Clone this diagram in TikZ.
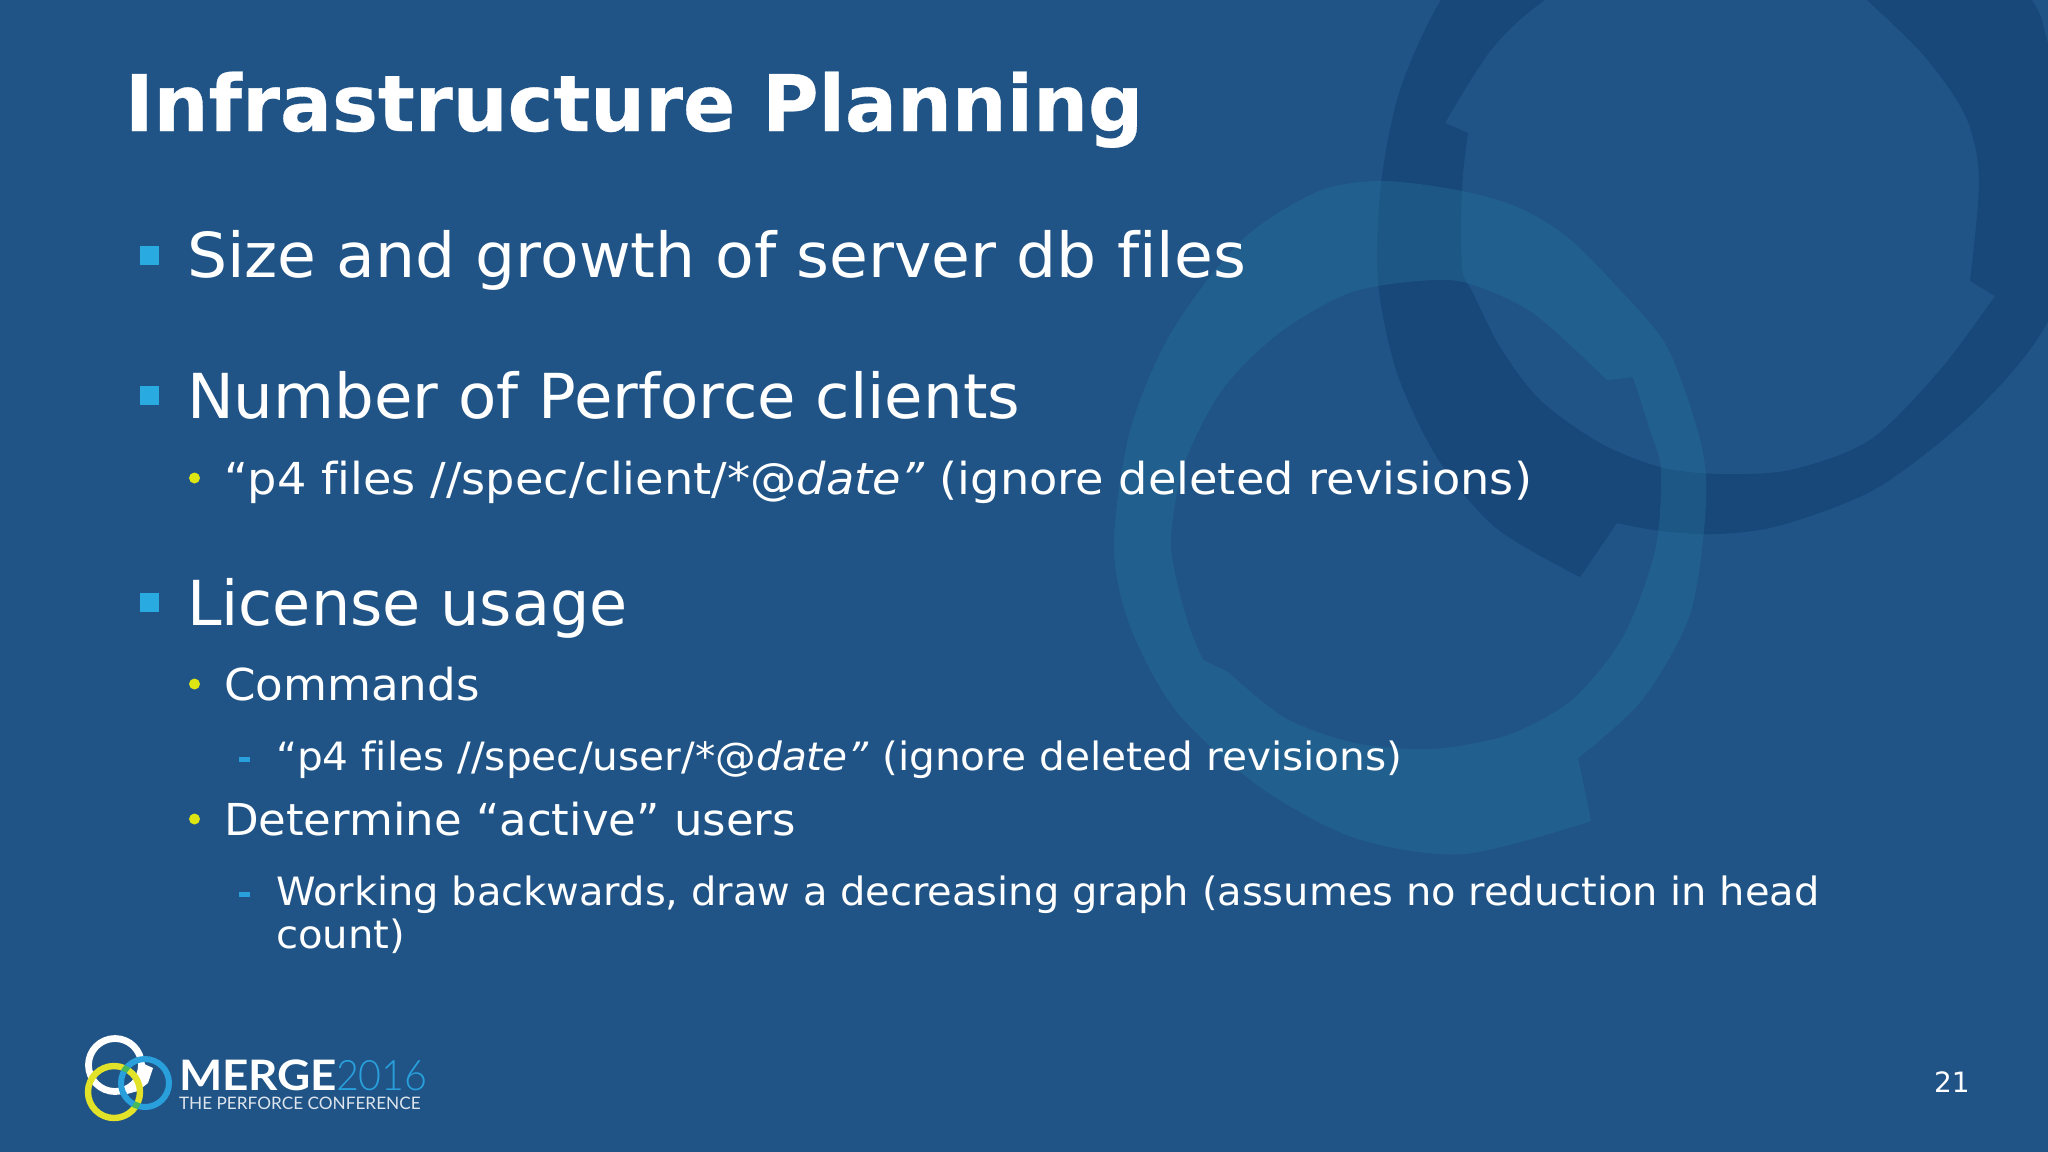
\documentclass[tikz,border=0pt]{standalone}
\usepackage{graphicx}
\usepackage{fontspec}
\setmainfont[Ligatures=NoCommon,BoldFeatures={FakeBold=0.4}]{DejaVu Sans}
\newfontfamily\logofont{Lato}
\newfontfamily\logolight{Lato Light}
\definecolor{bgblue}{RGB}{32,84,135}
\definecolor{ringdark}{RGB}{24,71,122}
\definecolor{ringlight}{RGB}{38,125,160}
\definecolor{sqblue}{RGB}{41,171,226}
\definecolor{dotyellow}{RGB}{221,229,18}
\definecolor{logoyellow}{RGB}{226,226,40}
\definecolor{logoblue}{RGB}{41,160,220}
\definecolor{logogreen}{RGB}{70,185,90}
\newcommand{\sx}[2]{\scalebox{#1}[1]{#2}}
\tikzset{
  txt/.style={anchor=base west,inner sep=0pt,outer sep=0pt,text=white},
  titletxt/.style={txt,font=\fontsize{39}{44}\selectfont\bfseries},
  lone/.style={txt,font=\fontsize{31}{36}\selectfont},
  ltwo/.style={txt,font=\fontsize{22}{26}\selectfont},
  lthree/.style={txt,font=\fontsize{19.5}{24}\selectfont},
  sqbullet/.style={fill=sqblue,draw=none,minimum size=9.5pt,inner sep=0pt},
  dotbullet/.style={circle,fill=dotyellow,draw=none,minimum size=5.5pt,inner sep=0pt},
  dashbullet/.style={fill=logoblue,draw=none,minimum width=5.5pt,minimum height=2.4pt,inner sep=0pt},
}
\begin{document}
\begin{tikzpicture}[x=0.5pt,y=-0.5pt]
\useasboundingbox (0,0) rectangle (2048,1151);
\fill[bgblue] (-5,-5) rectangle (2055,1160);
\begin{scope}
\clip (-5,-5) rectangle (2055,1160);
% dark ring
\fill[ringdark,even odd rule]
  plot[smooth] coordinates {(1580,577)(1496,528)(1438,459)(1397,373)(1378,281)(1381,184)(1400,90)(1441,0)(1500,-70)(1700,-150)(1950,-120)(2032,0)(2048,43)(2090,180)(2048,321)(1973,413)(1877,488)(1782,525)(1718,534)(1661,531)(1617,523)}
  -- cycle
  plot[smooth] coordinates {(1468,133)(1462,187)(1462,267)(1473,293)(1500,347)(1540,400)(1600,443)(1660,467)(1718,474)(1790,470)(1870,440)(1940,370)(1995,296)}
  -- plot[smooth] coordinates {(1970,281)(1979,180)(1966,117)(1925,57)(1867,0)(1800,-60)(1650,-60)(1545,0)(1491,50)(1445,123)}
  -- cycle;
% light ring
\fill[ringlight,fill opacity=0.3,even odd rule]
  plot[smooth] coordinates {(1591,821)(1464,854)(1355,838)(1260,787)(1177,712)(1130,626)(1114,545)(1130,431)(1171,333)(1241,241)(1317,192)(1381,181)(1457,190)(1517,207)(1567,237)(1617,287)(1667,347)(1700,440)(1706,505)(1690,614)(1642,700)(1578,758)}
  -- cycle
  plot[smooth] coordinates {(1633,377)(1650,430)(1661,471)(1655,551)(1623,637)(1572,700)(1508,735)(1432,749)(1355,743)(1285,718)(1228,672)}
  -- plot[smooth] coordinates {(1203,660)(1187,620)(1171,545)(1184,465)(1222,390)(1279,333)(1349,293)(1419,281)(1467,283)(1533,313)(1607,380)}
  -- cycle;
\end{scope}

% title
\node[titletxt] (title) at (125,131) {\sx{0.988}{Infrastructure Planning}};

% level one
\node[sqbullet] (b1) at (149,255) {};
\node[lone] (t1) at (187,277) {\sx{1.019}{Size and growth of server db files}};
\node[sqbullet] (b2) at (149,395) {};
\node[lone] (t2) at (187,418) {\sx{1.0095}{Number of Perforce clients}};
\node[dotbullet] (b3) at (194.5,478) {};
\node[ltwo] (t3) at (224,494) {\sx{1.051}{“p4 files //spec/client/*@\textit{date”} (ignore deleted revisions)}};
\node[sqbullet] (b4) at (149,602) {};
\node[lone] (t4) at (187,625) {License usage};
\node[dotbullet] (b5) at (194.5,684) {};
\node[ltwo] (t5) at (224,700) {\sx{1.026}{Commands}};
\node[dashbullet] (b6) at (244.5,759.5) {};
\node[lthree] (t6) at (276,770) {\sx{1.042}{“p4 files //spec/user/*@\textit{date”} (ignore deleted revisions)}};
\node[dotbullet] (b7) at (194.5,819) {};
\node[ltwo] (t7) at (224,835) {\sx{1.023}{Determine “active” users}};
\node[dashbullet] (b8) at (244.5,894.5) {};
\node[lthree] (t8) at (276,905) {\sx{1.025}{Working backwards, draw a decreasing graph (assumes no reduction in head}};
\node[lthree] (t9) at (276,948) {\sx{1.03}{count)}};

% page number
\node[txt,font=\fontsize{14}{16}\selectfont] (pg) at (1934,1092) {21};

% logo
\draw[white,line width=3.4pt] (115,1065) circle[radius=26.5];
\fill[white] (142,1063) -- (153,1068) -- (148,1083) -- (138,1091) -- (127,1094) -- (127,1088) -- (135,1082) -- cycle;
\draw[logoyellow,line width=3.2pt] (114,1092) circle[radius=26];
\draw[logoblue,line width=3pt] (145,1083) circle[radius=24];
\begin{scope}[even odd rule]
\clip (114,1092) circle[radius=29] (114,1092) circle[radius=23];
\draw[logogreen,line width=3pt] (145,1083) circle[radius=24];
\end{scope}
\node[txt,font=\logofont\fontsize{21}{24}\selectfont\bfseries] (mrg) at (179,1090) {\sx{1.09}{MERGE}};
\node[txt,text=logoblue,font=\logolight\fontsize{21}{24}\selectfont] (yr) at (336,1090) {\sx{0.94}{2016}};
\node[txt,text=white!85!bgblue,font=\logofont\fontsize{8.6}{11}\selectfont] (conf) at (179,1109) {THE PERFORCE CONFERENCE};
\end{tikzpicture}
\end{document}
